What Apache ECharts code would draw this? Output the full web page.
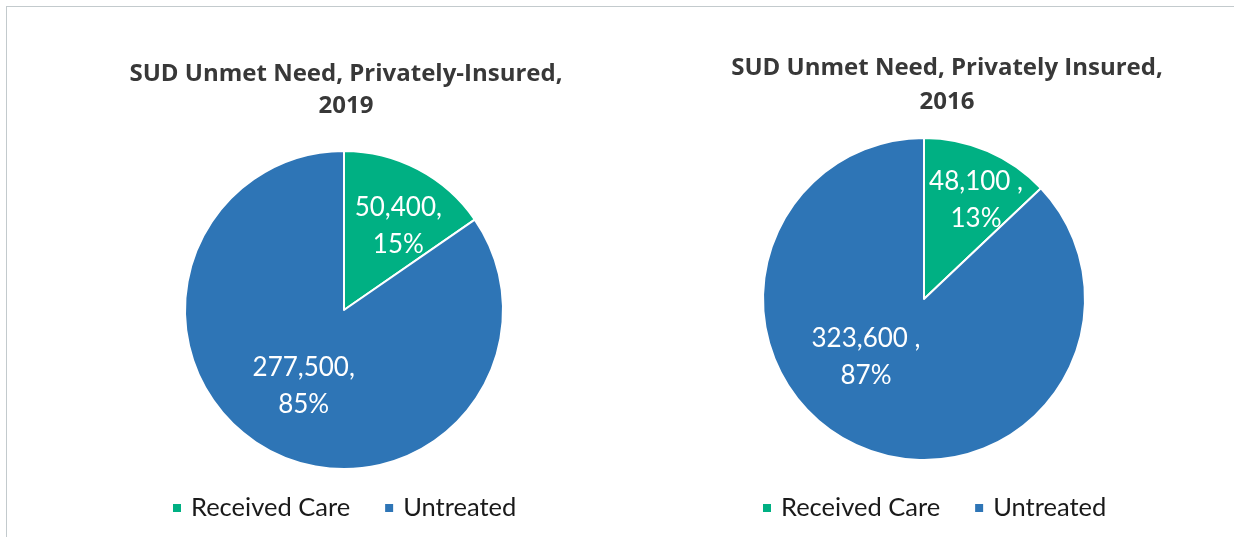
<!DOCTYPE html>
<html>
<head>
    <meta charset="UTF-8">
    <title>SUD Unmet Need</title>
    <script src="https://cdn.jsdelivr.net/npm/echarts@6/dist/echarts.min.js"></script>
    <style>
        html, body { margin: 0; padding: 0; background: #fff; }
        #frame {
            position: absolute; left: 6px; top: 6px;
            width: 1260px; height: 560px;
            border: 1.5px solid #c3cacd;
        }
        #chart { position: absolute; left: 0; top: 0; width: 1234px; height: 537px; }
    </style>
</head>
<body>
<div id="frame"></div>
<div id="chart"></div>
<script>
    const CATEGORIES = ['Received Care', 'Untreated']
    const COLORS = ['#00b083', '#2e75b6']

    const TITLE_2019 = 'SUD Unmet Need, Privately-Insured,\n2019'
    const VALUES_2019 = [50400, 277500]

    const TITLE_2016 = 'SUD Unmet Need, Privately Insured,\n2016'
    const VALUES_2016 = [48100, 323600]

    const FONT = 'Lato, "Open Sans", sans-serif'
    const TITLE_FONT = '"Open Sans", Lato, sans-serif'

    // build pie data; label nudges per slice to sit like the original
    function pieData(values, offsets) {
        return values.map((v, i) => ({
            name: CATEGORIES[i],
            value: v,
            label: { offset: offsets[i] }
        }))
    }

    function pieSeries(values, center, radius, sep, offsets) {
        return {
            type: 'pie',
            center: center,
            radius: radius,
            startAngle: 90,
            clockwise: true,
            percentPrecision: 0,
            silent: true,
            itemStyle: { borderColor: '#fff', borderWidth: 2 },
            label: {
                position: 'inside',
                color: '#fff',
                fontFamily: FONT,
                fontSize: 26,
                lineHeight: 37,
                align: 'center',
                formatter: p => p.value.toLocaleString('en-US') + sep + '\n' + p.percent + '%'
            },
            labelLine: { show: false },
            data: pieData(values, offsets)
        }
    }

    function legend(left) {
        return {
            left: left,
            top: 490,
            icon: 'rect',
            itemWidth: 10,
            itemHeight: 10,
            itemGap: 33,
            selectedMode: false,
            textStyle: { fontFamily: FONT, fontSize: 25.5, color: '#1a1a1a', padding: [0, 0, 0, 4] },
            data: CATEGORIES
        }
    }

    function title(text, x, top, lh) {
        return {
            text: text, left: x, top: top, textAlign: 'center',
            textStyle: { fontFamily: TITLE_FONT, fontSize: 24, fontWeight: 'bold', color: '#383838', lineHeight: lh }
        }
    }

    const chart = echarts.init(document.getElementById('chart'), null, {renderer: 'canvas'})
    chart.setOption({
        animation: false,
        color: COLORS,
        title: [
            title(TITLE_2019, 341, 53, 32),
            title(TITLE_2016, 942, 46, 34)
        ],
        legend: [legend(166), legend(756)],
        series: [
            pieSeries(VALUES_2019, [344, 310], 159, ',', [[16, -11], [-2, 3]]),
            pieSeries(VALUES_2016, [924, 299], 161, ' ,', [[19, -22], [-25, -19]])
        ]
    })
</script>
</body>
</html>
